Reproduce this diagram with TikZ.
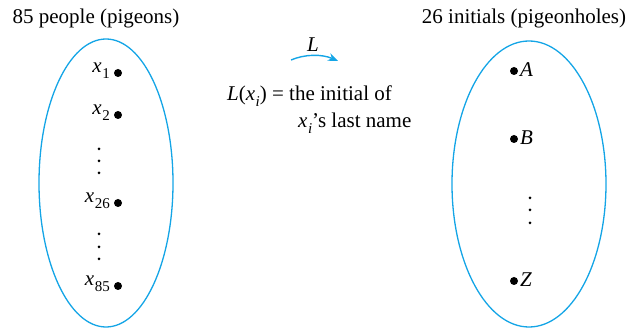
\documentclass[tikz,border=0pt]{standalone}
\usepackage{fontspec}
\setmainfont{Liberation Serif}
\usetikzlibrary{arrows.meta,shapes.geometric}
\definecolor{setblue}{RGB}{20,165,230}
\newcommand\subtxt[1]{\raisebox{-0.28em}{\fontsize{15}{15}\selectfont #1}}
\newcommand\itx[1]{\textit{x}\kern0.5pt\subtxt{#1}}
\begin{document}
\begin{tikzpicture}[x=1pt,y=-1pt,
  setline/.style={draw=setblue,line width=1.3pt},
  pt/.style={circle,fill=black,inner sep=0pt,minimum size=8pt},
  lbl/.style={font=\fontsize{21}{24}\selectfont,inner sep=0pt},
  vdot/.style={circle,fill=black,inner sep=0pt,minimum size=3pt}]
\useasboundingbox (0,0) rectangle (633,328);
% titles
\node[lbl] (t1) at (96,18) {85 people (pigeons)};
\node[lbl] (t2) at (524,18) {26 initials (pigeonholes)};
% ellipses
\node[setline,ellipse,minimum width=134pt,minimum height=288pt,inner sep=0pt] (E1) at (106,183) {};
\node[setline,ellipse,minimum width=154pt,minimum height=286pt,inner sep=0pt] (E2) at (529,184) {};
% left points
\node[pt] (p1) at (118,73) {};
\node[pt] (p2) at (118,115) {};
\node[pt] (p26) at (118,203) {};
\node[pt] (p85) at (118,286) {};
\node[lbl,anchor=east] (l1) at (110,71) {\itx{1}};
\node[lbl,anchor=east] (l2) at (110,113) {\itx{2}};
\node[lbl,anchor=east] (l26) at (110,201) {\itx{26}};
\node[lbl,anchor=east] (l85) at (110,284) {\itx{85}};
\node[vdot] (d1) at (99,149) {};
\node[vdot] (d2) at (99,161) {};
\node[vdot] (d3) at (99,173) {};
\node[vdot] (d4) at (99,234) {};
\node[vdot] (d5) at (99,247) {};
\node[vdot] (d6) at (99,259) {};
% right points
\node[pt] (qA) at (514,71) {};
\node[pt] (qB) at (514,139) {};
\node[pt] (qZ) at (514,281) {};
\node[lbl,anchor=west] (lA) at (520,70) {\textit{A}};
\node[lbl,anchor=west] (lB) at (520,138) {\textit{B}};
\node[lbl,anchor=west] (lZ) at (520,280) {\textit{Z}};
\node[vdot] (e1) at (530,198) {};
\node[vdot] (e2) at (530,210) {};
\node[vdot] (e3) at (530,223) {};
% arrow
\coordinate (a0) at (291,60);
\coordinate (a1) at (338,61);
\draw[setblue,line width=1.4pt,-{Stealth[length=10pt,width=8pt]}] (a0) .. controls (305,54) and (322,54) .. (a1);
\node[lbl] (Lab) at (313,45) {\textit{L}};
% definition
\node[lbl,anchor=west] (def1) at (227,96) {\textit{L}(\itx{\textit{i}}) = the initial of};
\node[lbl,anchor=west] (def2) at (298,123) {\itx{\textit{i}}’s last name};
\end{tikzpicture}
\end{document}
